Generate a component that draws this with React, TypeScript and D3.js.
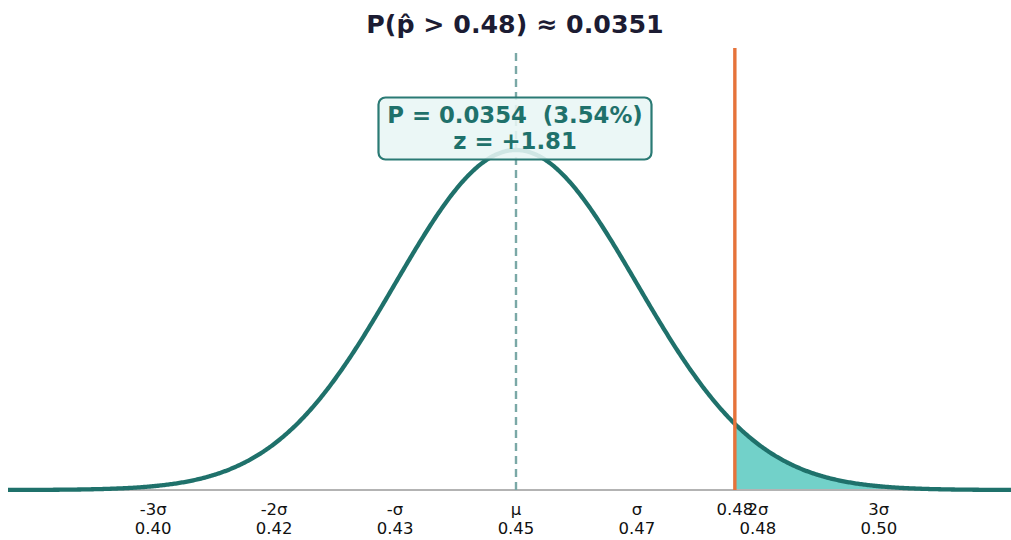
import React from "react";
import * as d3 from "d3";

const MEAN = 0.45;
const SD = 0.01658;
const THRESHOLD = 0.48;
const TITLE = "P(p̂ > 0.48) ≈ 0.0351";
const BOX_LINES = ["P = 0.0354\u00a0\u00a0(3.54%)", "z = +1.81"];
const TICK_Z = [-3, -2, -1, 0, 1, 2, 3];
const TICK_NAMES = ["-3σ", "-2σ", "-σ", "μ", "σ", "2σ", "3σ"];
const TICK_VALUES = ["0.40", "0.42", "0.43", "0.45", "0.47", "0.48", "0.50"];
const THRESHOLD_LABEL = "0.48";

const W = 1011;
const H = 540;
const FONT = "DejaVu Sans, sans-serif";

export default function App() {
  const pdf = (x: number) =>
    Math.exp(-0.5 * ((x - MEAN) / SD) ** 2) / (SD * Math.sqrt(2 * Math.PI));
  const peak = pdf(MEAN);
  const x = d3.scaleLinear().domain([MEAN - 4.2 * SD, MEAN + 4.2 * SD]).range([8, 1024]);
  const y = d3.scaleLinear().domain([0, peak * 1.3]).range([490, 48]);

  const xs = d3.range(0, 801).map((i) => MEAN - 4.2 * SD + (8.4 * SD * i) / 800);
  const line = d3.line<number>().x((d) => x(d)).y((d) => y(pdf(d)));
  const tailXs = [THRESHOLD, ...xs.filter((d) => d > THRESHOLD)];
  const area = d3
    .area<number>()
    .x((d) => x(d))
    .y0(y(0))
    .y1((d) => y(pdf(d)));

  const teal = "#1f716b";
  return (
    <svg width={W} height={H} style={{ position: "absolute", left: 0, top: 0, background: "#fff" }} fontFamily={FONT}>
      <text x={515} y={33} textAnchor="middle" fontSize={25.3} fontWeight="bold" fill="#1c1c33">
        {TITLE}
      </text>
      <path d={area(tailXs) || ""} fill="#72d1c9" />
      <line x1={10} x2={W} y1={y(0)} y2={y(0)} stroke="#b3b3b3" strokeWidth={1.8} />
      <line
        x1={x(MEAN)}
        x2={x(MEAN)}
        y1={y(0)}
        y2={y(peak * 1.287)}
        stroke="#7aa8a6"
        strokeWidth={2.4}
        strokeDasharray="8,5"
      />
      <path d={line(xs) || ""} fill="none" stroke={teal} strokeWidth={4.3} />
      <line
        x1={x(THRESHOLD)}
        x2={x(THRESHOLD)}
        y1={y(0)}
        y2={y(peak * 1.3)}
        stroke="#e6733a"
        strokeWidth={3.4}
      />
      <rect
        x={378.5}
        y={97.5}
        width={273}
        height={62}
        rx={7}
        fill="#e8f6f5"
        fillOpacity={0.88}
        stroke="#2a7a74"
        strokeWidth={2.2}
      />
      {BOX_LINES.map((t, i) => (
        <text key={i} x={515} y={123 + i * 25.5} textAnchor="middle" fontSize={22.8} fontWeight="bold" fill={teal}>
          {t}
        </text>
      ))}
      {TICK_Z.map((z, i) => (
        <g key={z} transform={`translate(${x(MEAN + z * SD)},0)`}>
          <text y={515} textAnchor="middle" fontSize={16.5} fill="#111">
            {TICK_NAMES[i]}
          </text>
          <text y={534} textAnchor="middle" fontSize={16.5} fill="#111">
            {TICK_VALUES[i]}
          </text>
        </g>
      ))}
      <text x={x(THRESHOLD)} y={515} textAnchor="middle" fontSize={16.5} fill="#111">
        {THRESHOLD_LABEL}
      </text>
    </svg>
  );
}
